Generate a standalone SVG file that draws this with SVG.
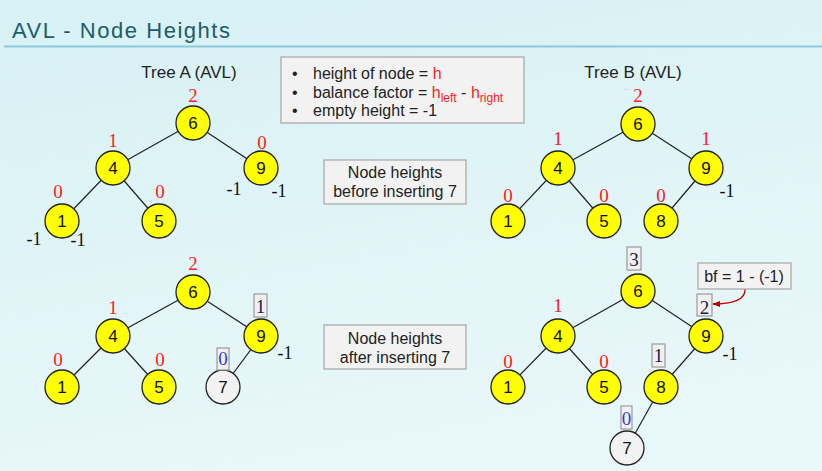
<svg xmlns="http://www.w3.org/2000/svg" width="822" height="471" viewBox="0 0 822 471">
<defs>
<linearGradient id="bg" x1="0" y1="0" x2="0.3" y2="1">
<stop offset="0" stop-color="#d7f1f4"/>
<stop offset="1" stop-color="#e8f7f9"/>
</linearGradient>
<marker id="ah" viewBox="0 0 10 10" refX="9" refY="5" markerWidth="6" markerHeight="6" orient="auto">
<path d="M0,1 L10,5 L0,9 z" fill="#c00000"/>
</marker>
<style>
.sans{font-family:"Liberation Sans",Arial,sans-serif}
.serif{font-family:"Liberation Serif","Times New Roman",serif}
.node{fill:#ffff00;stroke:#222;stroke-width:1.3}
.new{fill:#f2f2f2;stroke:#222;stroke-width:1.3}
.nl{font-family:"Liberation Sans",Arial,sans-serif;font-size:17px;fill:#111;text-anchor:middle}
.h{font-family:"Liberation Serif","Times New Roman",serif;font-size:19px;fill:#ff1a1a;text-anchor:middle}
.e{font-family:"Liberation Serif","Times New Roman",serif;font-size:18px;fill:#111;text-anchor:middle}
.bx{fill:#f0f0f0;stroke:#9a9a9a;stroke-width:1.2}
.bn{font-family:"Liberation Serif","Times New Roman",serif;font-size:19px;fill:#1a1a4a;text-anchor:middle}
.bb{font-family:"Liberation Serif","Times New Roman",serif;font-size:19px;fill:#3a3ad0;text-anchor:middle}
.panel{fill:#f2f2f2;stroke:#a6a6a6;stroke-width:1.2}
.pt{font-family:"Liberation Sans",Arial,sans-serif;font-size:16px;fill:#222}
.edge{stroke:#222;stroke-width:1.2}
</style>
</defs>
<rect width="822" height="471" fill="url(#bg)"/>
<g id="title">
<text x="12" y="38" class="sans" font-size="22" fill="#1b5c6c" textLength="218" lengthAdjust="spacing">AVL - Node Heights</text>
<line x1="4" y1="46.5" x2="822" y2="46.5" stroke="#8ccadb" stroke-width="2.2"/>
</g>
<g id="legend">
<rect class="panel" x="281" y="57" width="243" height="66"/>
<text class="pt" x="292" y="79">•</text>
<text class="pt" x="292" y="98">•</text>
<text class="pt" x="292" y="116">•</text>
<text class="pt" x="313" y="79">height of node = <tspan fill="#ff1a1a">h</tspan></text>
<text class="pt" x="313" y="98">balance factor = <tspan fill="#ff1a1a">h</tspan><tspan fill="#ff1a1a" font-size="12" dy="4">left</tspan><tspan dy="-4"> - </tspan><tspan fill="#ff1a1a">h</tspan><tspan fill="#ff1a1a" font-size="12" dy="4">right</tspan></text>
<text class="pt" x="313" y="116">empty height = -1</text>
</g>
<text class="sans" x="189" y="78" font-size="17" fill="#222" text-anchor="middle">Tree A (AVL)</text>
<text class="sans" x="633" y="78" font-size="17" fill="#222" text-anchor="middle">Tree B (AVL)</text>
<g id="note-before">
<rect class="panel" x="324" y="160" width="142" height="44"/>
<text class="pt" x="395" y="178" text-anchor="middle">Node heights</text>
<text class="pt" x="395" y="197" text-anchor="middle">before inserting 7</text>
</g>
<g id="note-after">
<rect class="panel" x="324" y="325" width="142" height="44"/>
<text class="pt" x="395" y="344" text-anchor="middle">Node heights</text>
<text class="pt" x="395" y="363" text-anchor="middle">after inserting 7</text>
</g>
<g id="connectors">
<line class="edge" x1="193" y1="123" x2="113" y2="168"/>
<line class="edge" x1="193" y1="123" x2="261" y2="168"/>
<line class="edge" x1="113" y1="168" x2="62" y2="221"/>
<line class="edge" x1="113" y1="168" x2="159" y2="221"/>
<line class="edge" x1="638" y1="124" x2="558" y2="168"/>
<line class="edge" x1="638" y1="124" x2="706" y2="168"/>
<line class="edge" x1="558" y1="168" x2="508" y2="221"/>
<line class="edge" x1="558" y1="168" x2="604" y2="221"/>
<line class="edge" x1="706" y1="168" x2="661" y2="221"/>
<line class="edge" x1="193" y1="292" x2="113" y2="336"/>
<line class="edge" x1="193" y1="292" x2="261" y2="336"/>
<line class="edge" x1="113" y1="336" x2="62" y2="387"/>
<line class="edge" x1="113" y1="336" x2="159" y2="387"/>
<line class="edge" x1="261" y1="336" x2="223" y2="387"/>
<line class="edge" x1="638" y1="291" x2="558" y2="336"/>
<line class="edge" x1="638" y1="291" x2="706" y2="336"/>
<line class="edge" x1="558" y1="336" x2="508" y2="387"/>
<line class="edge" x1="558" y1="336" x2="604" y2="387"/>
<line class="edge" x1="706" y1="336" x2="661" y2="387"/>
<line class="edge" x1="661" y1="387" x2="627" y2="448"/>
<path d="M745,289 C746,300 732,304 713,304" fill="none" stroke="#c00000" stroke-width="1.3" marker-end="url(#ah)"/>
</g>
<!-- Tree A before -->
<g id="a1-6"><circle class="node" cx="193" cy="123" r="17"/><text class="nl" x="193" y="129">6</text><text class="h" x="193" y="102">2</text></g>
<g id="a1-4"><circle class="node" cx="113" cy="168" r="17"/><text class="nl" x="113" y="174">4</text><text class="h" x="113" y="147">1</text></g>
<g id="a1-9"><circle class="node" cx="261" cy="168" r="17"/><text class="nl" x="261" y="174">9</text><text class="h" x="262" y="149">0</text><text class="e" x="234" y="195">-1</text><text class="e" x="279" y="197">-1</text></g>
<g id="a1-1"><circle class="node" cx="62" cy="221" r="17"/><text class="nl" x="62" y="227">1</text><text class="h" x="58" y="198">0</text><text class="e" x="34" y="245">-1</text><text class="e" x="78" y="246">-1</text></g>
<g id="a1-5"><circle class="node" cx="159" cy="221" r="17"/><text class="nl" x="159" y="227">5</text><text class="h" x="160" y="198">0</text></g>
<!-- Tree B before -->
<g id="b1-6"><circle class="node" cx="638" cy="124" r="17"/><text class="nl" x="638" y="130">6</text><text class="h" x="638" y="102">2</text></g>
<g id="b1-4"><circle class="node" cx="558" cy="168" r="17"/><text class="nl" x="558" y="174">4</text><text class="h" x="558" y="145">1</text></g>
<g id="b1-9"><circle class="node" cx="706" cy="168" r="17"/><text class="nl" x="706" y="174">9</text><text class="h" x="706" y="145">1</text><text class="e" x="727" y="197">-1</text></g>
<g id="b1-1"><circle class="node" cx="508" cy="221" r="17"/><text class="nl" x="508" y="227">1</text><text class="h" x="508" y="202">0</text></g>
<g id="b1-5"><circle class="node" cx="604" cy="221" r="17"/><text class="nl" x="604" y="227">5</text><text class="h" x="604" y="202">0</text></g>
<g id="b1-8"><circle class="node" cx="661" cy="221" r="17"/><text class="nl" x="661" y="227">8</text><text class="h" x="661" y="202">0</text></g>
<!-- Tree A after -->
<g id="a2-6"><circle class="node" cx="193" cy="292" r="17"/><text class="nl" x="193" y="298">6</text><text class="h" x="193" y="270">2</text></g>
<g id="a2-4"><circle class="node" cx="113" cy="336" r="17"/><text class="nl" x="113" y="342">4</text><text class="h" x="113" y="314">1</text></g>
<g id="a2-9"><circle class="node" cx="261" cy="336" r="17"/><text class="nl" x="261" y="342">9</text><rect class="bx" x="254" y="294" width="13" height="23"/><text class="bn" x="260.5" y="313">1</text><text class="e" x="285" y="359">-1</text></g>
<g id="a2-1"><circle class="node" cx="62" cy="387" r="17"/><text class="nl" x="62" y="393">1</text><text class="h" x="58" y="366">0</text></g>
<g id="a2-5"><circle class="node" cx="159" cy="387" r="17"/><text class="nl" x="159" y="393">5</text><text class="h" x="160" y="366">0</text></g>
<g id="a2-7"><circle class="new" cx="223" cy="387" r="17"/><text class="nl" x="223" y="393">7</text><rect class="bx" x="217" y="348" width="12" height="22" fill-opacity="0.85"/><text class="bb" x="223" y="365">0</text></g>
<!-- Tree B after -->
<g id="b2-6"><circle class="node" cx="638" cy="291" r="17"/><text class="nl" x="638" y="297">6</text><rect class="bx" x="627" y="247" width="14" height="23"/><text class="bn" x="634" y="266">3</text></g>
<g id="b2-4"><circle class="node" cx="558" cy="336" r="17"/><text class="nl" x="558" y="342">4</text><text class="h" x="558" y="312">1</text></g>
<g id="b2-9"><circle class="node" cx="706" cy="336" r="17"/><text class="nl" x="706" y="342">9</text><rect class="bx" x="697" y="294" width="15" height="22"/><text class="bn" x="704.5" y="314">2</text><text class="e" x="730" y="360">-1</text></g>
<g id="b2-1"><circle class="node" cx="508" cy="387" r="17"/><text class="nl" x="508" y="393">1</text><text class="h" x="508" y="368">0</text></g>
<g id="b2-5"><circle class="node" cx="604" cy="387" r="17"/><text class="nl" x="604" y="393">5</text><text class="h" x="604" y="368">0</text></g>
<g id="b2-8"><circle class="node" cx="661" cy="387" r="17"/><text class="nl" x="661" y="393">8</text><rect class="bx" x="652" y="344" width="13" height="23"/><text class="bn" x="658.5" y="362">1</text></g>
<g id="b2-7"><circle class="new" cx="627" cy="448" r="17"/><text class="nl" x="627" y="454">7</text><rect class="bx" x="621" y="406" width="11" height="23" fill-opacity="0.6"/><text class="bb" x="626.5" y="425">0</text></g>
<g id="bf-note">
<rect class="panel" x="698" y="263" width="93" height="26"/>
<text class="pt" x="744" y="282" text-anchor="middle">bf = 1 - (-1)</text>
</g>
</svg>
